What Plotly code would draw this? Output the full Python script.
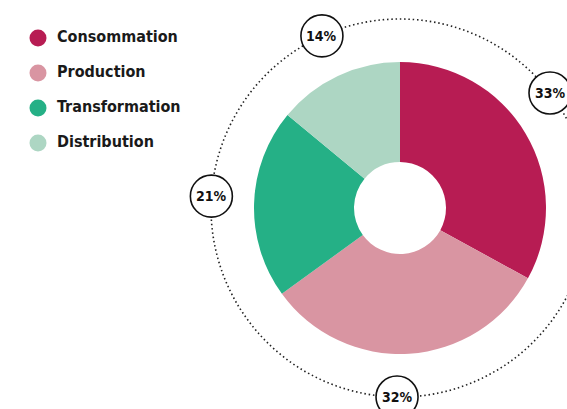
import math
import plotly.graph_objects as go

categories = ["Consommation", "Production", "Transformation", "Distribution"]
values = [33, 32, 21, 14]
colors = ["#B71C53", "#D995A2", "#25B086", "#ADD6C3"]

W, H = 567, 409
cx, cy = 400, 208      # donut centre in pixels
r_out = 146
r_ring = 189
r_lab = 21
max_lab_x = 550
label_nudge_deg = [0, 4.5, 1.8, 0.8]   # small angular nudges of the badge labels
FONT = "DejaVu Sans Condensed, Roboto, sans-serif"

fig = go.Figure()

fig.add_trace(go.Pie(
    labels=categories, values=values, sort=False, direction="clockwise",
    rotation=0, hole=0.315, textinfo="none", hoverinfo="label+percent",
    marker=dict(colors=colors, line=dict(width=0)), showlegend=False,
    domain=dict(x=[(cx - r_out) / W, (cx + r_out) / W],
                y=[(H - cy - r_out) / H, (H - cy + r_out) / H]),
))

# custom legend
leg_y = [38 + 35 * i for i in range(len(categories))]
fig.add_trace(go.Scatter(
    x=[38] * len(categories), y=leg_y, mode="markers",
    marker=dict(size=17, color=colors),
    hoverinfo="skip", showlegend=False, cliponaxis=False,
))
fig.add_trace(go.Scatter(
    x=[57] * len(categories), y=leg_y, mode="text", text=categories,
    textposition="middle right",
    textfont=dict(family=FONT, size=16, color="#1a1a1a", weight="bold"),
    hoverinfo="skip", showlegend=False, cliponaxis=False,
))

shapes = [dict(type="circle", xref="x", yref="y",
               x0=cx - r_ring, x1=cx + r_ring, y0=cy - r_ring, y1=cy + r_ring,
               line=dict(color="#222", width=1.6, dash="1.5px,2.8px"), layer="below")]
annotations = []
total = sum(values)
cum = 0
for v, nudge in zip(values, label_nudge_deg):
    mid = (cum + v / 2) / total * 2 * math.pi + math.radians(nudge)
    cum += v
    if cx + r_ring * math.sin(mid) > max_lab_x and math.cos(mid) > 0:
        mid = math.asin((max_lab_x - cx) / r_ring)
    lx = cx + r_ring * math.sin(mid)
    ly = cy - r_ring * math.cos(mid)
    shapes.append(dict(type="circle", xref="x", yref="y",
                       x0=lx - r_lab, x1=lx + r_lab, y0=ly - r_lab, y1=ly + r_lab,
                       fillcolor="white", line=dict(color="#111", width=1.6)))
    annotations.append(dict(x=lx, y=ly, xref="x", yref="y", text=f"{v}%",
                            showarrow=False,
                            font=dict(family=FONT, size=14, color="#111", weight="bold")))

fig.update_layout(
    width=W, height=H, margin=dict(l=0, r=0, t=0, b=0),
    paper_bgcolor="white", plot_bgcolor="rgba(0,0,0,0)",
    xaxis=dict(range=[0, W], visible=False, fixedrange=True),
    yaxis=dict(range=[H, 0], visible=False, fixedrange=True),
    shapes=shapes, annotations=annotations,
)

fig.write_html("out.html", config={"displayModeBar": False},
               post_script="document.body.style.margin='0';")
